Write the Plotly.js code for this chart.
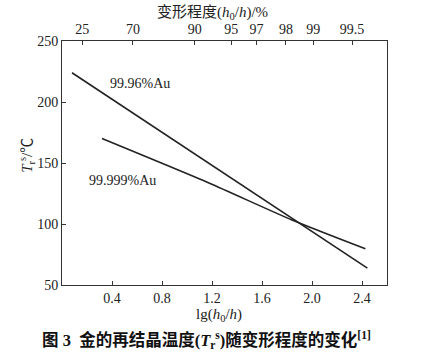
<!DOCTYPE html>
<html>
<head>
<meta charset="utf-8">
<script src="https://cdn.plot.ly/plotly-3.0.1.min.js"></script>
<style>html,body{margin:0;padding:0;background:#fff;}#chart{width:432px;height:359px;}</style>
</head>
<body>
<div id="chart"></div>
<script>
// Data
const lgX_9996 = [0.08, 2.443];
const temp_9996 = [224, 63.8];
const lgX_99999 = [0.32, 1.18, 1.84, 2.427];
const temp_99999 = [170, 133.4, 103.3, 79.7];
const seriesNames = ['99.96%Au', '99.999%Au'];
const labelX = [0.62, 0.48];
const labelY = [215.5, 136];
const topTickText = ['25', '70', '90', '95', '97', '98', '99', '99.5'];
const topTickPos = [0.161, 0.567, 1.062, 1.354, 1.555, 1.791, 2.010, 2.320];
const bottomTicks = [0.4, 0.8, 1.2, 1.6, 2.0, 2.4];
const yTicks = [50, 100, 150, 200, 250];

const serif = "'Liberation Serif', 'Times New Roman', 'Noto Sans CJK SC', serif";
const lineColor = '#222';

const traces = [
  {x: lgX_9996, y: temp_9996, mode: 'lines', name: seriesNames[0],
   line: {color: lineColor, width: 1.6}, xaxis: 'x', yaxis: 'y', hoverinfo: 'skip'},
  {x: lgX_99999, y: temp_99999, mode: 'lines', name: seriesNames[1],
   line: {color: lineColor, width: 1.6, shape: 'spline', smoothing: 0.6}, xaxis: 'x', yaxis: 'y', hoverinfo: 'skip'},
  {x: [topTickPos[0]], y: [yTicks[0]], mode: 'markers', marker: {opacity: 0}, xaxis: 'x2', yaxis: 'y', hoverinfo: 'skip', showlegend: false}
];

const axisCommon = {
  showgrid: false, zeroline: false, showline: true, linecolor: '#333', linewidth: 1,
  ticks: 'inside', ticklen: 4, tickcolor: '#333', tickwidth: 1,
  tickfont: {family: serif, size: 14, color: '#222'}
};

const txt = (text, x, y, size, extra) => Object.assign({
  x: x, y: y, xref: 'paper', yref: 'paper', xanchor: 'center', yanchor: 'middle',
  text: text, showarrow: false, font: {family: serif, size: size, color: '#222'}
}, extra || {});

const layout = {
  width: 432, height: 359,
  margin: {l: 62, r: 45, t: 41, b: 74},
  paper_bgcolor: '#fff', plot_bgcolor: '#fff',
  showlegend: false,
  font: {family: serif, color: '#222'},
  xaxis: Object.assign({}, axisCommon, {
    range: [0, 2.6], tickvals: bottomTicks, ticktext: bottomTicks.map(v => v.toFixed(1)),
    mirror: true
  }),
  xaxis2: Object.assign({}, axisCommon, {
    range: [0, 2.6], overlaying: 'x', side: 'top', anchor: 'y',
    tickvals: topTickPos, ticktext: topTickText
  }),
  yaxis: Object.assign({}, axisCommon, {
    range: [50, 250], tickvals: yTicks, mirror: true
  }),
  annotations: [
    {x: labelX[0], y: labelY[0], xref: 'x', yref: 'y', text: seriesNames[0], showarrow: false,
     font: {family: serif, size: 14, color: '#222'}},
    {x: labelX[1], y: labelY[1], xref: 'x', yref: 'y', text: seriesNames[1], showarrow: false,
     font: {family: serif, size: 14, color: '#222'}},
    txt('lg(<i>h</i><sub>0</sub>/<i>h</i>)', 0.483, -0.121, 15),
    txt('变形程度(<i>h</i><sub>0</sub>/<i>h</i>)/%', 0.462, 1.114, 15),
    txt('<i>T</i><sub>r</sub><sup>s</sup>/℃', -0.108, 0.533, 15, {textangle: -90}),
    txt('<b>图 3  金的再结晶温度(<i>T</i><sub>r</sub><sup>s</sup>)随变形程度的变化<sup>[1]</sup></b>',
        0.446, -0.224, 16.5, {font: {family: serif, size: 16.5, color: '#111'}})
  ]
};

Plotly.newPlot('chart', traces, layout, {displayModeBar: false, staticPlot: true});
</script>
</body>
</html>
